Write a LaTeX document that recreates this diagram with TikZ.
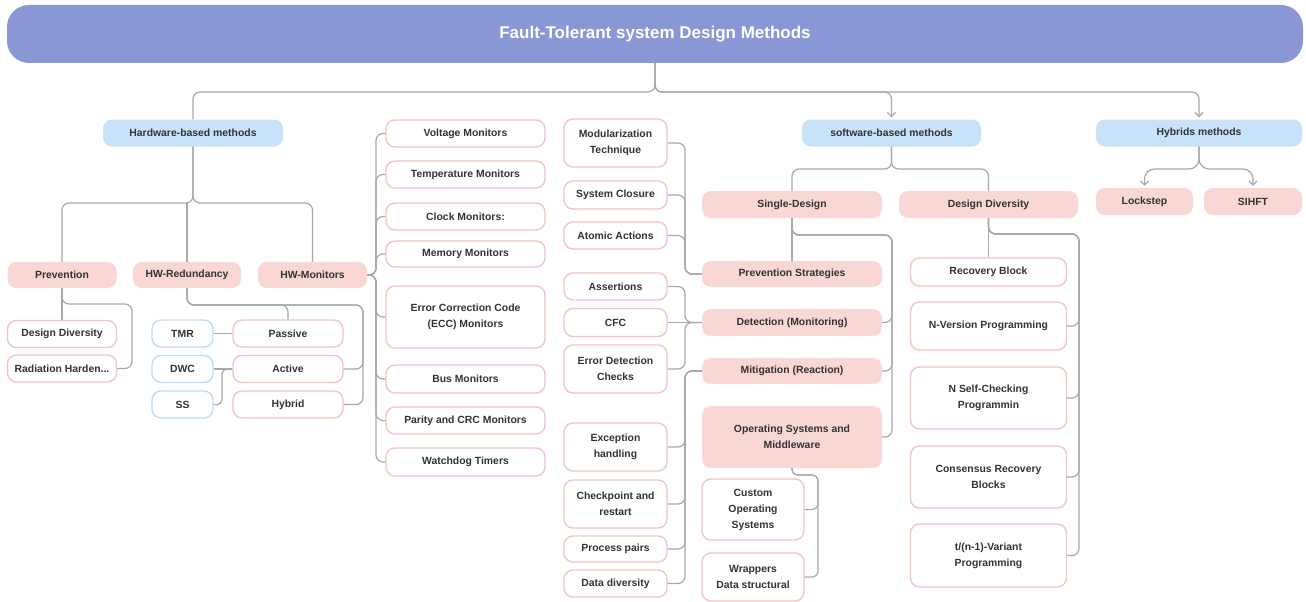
\documentclass[tikz,border=0pt]{standalone}
\usepackage{fontspec}
\setmainfont{Liberation Sans}
\usetikzlibrary{arrows.meta}
\definecolor{banner}{HTML}{8A97D5}
\definecolor{bluefill}{HTML}{C8E2F9}
\definecolor{blueedge}{HTML}{BDDCF6}
\definecolor{pinkfill}{HTML}{F8D7D4}
\definecolor{pinkedge}{HTML}{F5C4BE}
\definecolor{wire}{HTML}{A8A8A8}
\definecolor{ink}{HTML}{333333}
\begin{document}
\begin{tikzpicture}[x=1pt,y=-1pt,
  base/.style={rounded corners=9pt, inner sep=0pt, align=center, text=ink,
     font=\fontsize{10.4}{16}\selectfont\bfseries},
  sz/.style 2 args={minimum width=#1pt, minimum height=#2pt},
  cat/.style={base, fill=bluefill},
  grp/.style={base, fill=pinkfill},
  leaf/.style={base, fill=white, draw=pinkedge, line width=1.4pt},
  bleaf/.style={base, fill=white, draw=blueedge, line width=1.4pt},
  conn/.style={draw=wire, line width=1.2pt, rounded corners=7pt},
  arr/.style={conn, -{Straight Barb[length=4pt,width=8pt]}, shorten >=2pt},
]
\useasboundingbox (0,0) rectangle (1306,602);

% title banner
\node[base, fill=banner, rounded corners=22pt, sz={1296}{58}, text=white,
      font=\fontsize{17}{20}\selectfont\bfseries] (title) at (655,34)
      {Fault-Tolerant system Design Methods};

% main categories
\node[cat, sz={180}{27}] (hw)  at (193,133)   {Hardware-based methods};
\node[cat, sz={179}{27}] (sw)  at (891.5,133) {software-based methods};
\node[cat, sz={206}{27}] (hyb) at (1199,133)  {Hybrids methods};

% hardware branch
\node[grp, sz={109}{26}] (prev) at (62,275)    {Prevention};
\node[grp, sz={108}{26}] (hwr)  at (187,275)   {HW-Redundancy};
\node[grp, sz={109}{26}] (hwm)  at (312.5,275) {HW-Monitors};

\node[leaf, sz={109}{27}] (dd1) at (62,334)   {Design Diversity};
\node[leaf, sz={109}{27}] (rad) at (62,368.5) {Radiation Harden...};

\node[bleaf, sz={61}{27}] (tmr) at (182.5,333.5) {TMR};
\node[bleaf, sz={61}{27}] (dwc) at (182.5,369)   {DWC};
\node[bleaf, sz={61}{27}] (ss)  at (182.5,404.5) {SS};
\node[leaf, sz={110}{27}] (pas) at (288,333.5) {Passive};
\node[leaf, sz={110}{27}] (act) at (288,369)   {Active};
\node[leaf, sz={110}{27}] (hyd) at (288,404.5) {Hybrid};

% hardware monitors
\node[leaf, sz={159}{27}] (volt)  at (465.5,133.5) {Voltage Monitors};
\node[leaf, sz={159}{27}] (temp)  at (465.5,174.5) {Temperature Monitors};
\node[leaf, sz={159}{27}] (clock) at (465.5,216.5) {Clock Monitors:};
\node[leaf, sz={159}{26}] (mem)   at (465.5,254)   {Memory Monitors};
\node[leaf, sz={159}{62}] (ecc)   at (465.5,317)   {Error Correction Code\\(ECC) Monitors};
\node[leaf, sz={159}{28}] (bus)   at (465.5,379)   {Bus Monitors};
\node[leaf, sz={159}{27}] (par)   at (465.5,420.5) {Parity and CRC Monitors};
\node[leaf, sz={159}{28}] (wd)    at (465.5,462)   {Watchdog Timers};

% single-design techniques
\node[leaf, sz={103}{48}] (modu) at (615.5,143)   {Modularization\\Technique};
\node[leaf, sz={103}{28}] (sysc) at (615.5,195)   {System Closure};
\node[leaf, sz={103}{27}] (atom) at (615.5,235.5) {Atomic Actions};
\node[leaf, sz={103}{27}] (asrt) at (615.5,286.5) {Assertions};
\node[leaf, sz={103}{28}] (cfc)  at (615.5,322.5) {CFC};
\node[leaf, sz={103}{48}] (edc)  at (615.5,369)   {Error Detection\\Checks};
\node[leaf, sz={103}{48}] (exc)  at (615.5,447)   {Exception\\handling};
\node[leaf, sz={103}{48}] (chk)  at (615.5,504)   {Checkpoint and\\restart};
\node[leaf, sz={103}{26}] (pp)   at (615.5,549)   {Process pairs};
\node[leaf, sz={103}{27}] (dat)  at (615.5,583.5) {Data diversity};

% software branch
\node[grp, sz={180}{27}] (sd)  at (792,204.5)   {Single-Design};
\node[grp, sz={179}{27}] (ddv) at (988.5,204.5) {Design Diversity};
\node[grp, sz={180}{26}] (ps)  at (792,274)     {Prevention Strategies};
\node[grp, sz={180}{27}] (det) at (792,322.5)   {Detection (Monitoring)};
\node[grp, sz={180}{26}] (mit) at (792,371)     {Mitigation (Reaction)};
\node[grp, sz={180}{62}] (osm) at (792,437)     {Operating Systems and\\Middleware};
\node[leaf, sz={102}{61}] (cos) at (753,509.5)  {Custom\\Operating\\Systems};
\node[leaf, sz={102}{48}] (wrp) at (753,577)    {Wrappers\\Data structural};

\node[leaf, sz={156}{28}] (rb)  at (988.5,272)   {Recovery Block};
\node[leaf, sz={156}{48}] (nvp) at (988.5,326)   {N-Version Programming};
\node[leaf, sz={156}{62}] (nsc) at (988.5,398)   {N Self-Checking\\Programmin};
\node[leaf, sz={156}{62}] (crb) at (988.5,477)   {Consensus Recovery\\Blocks};
\node[leaf, sz={156}{63}] (tnv) at (988.5,555.5) {t/(n-1)-Variant\\Programming};

% hybrid branch
\node[grp, sz={97}{27}] (lock)  at (1144.5,201.5) {Lockstep};
\node[grp, sz={98}{27}] (sihft) at (1253,201.5)   {SIHFT};

% ---- connectors ----
\coordinate (topj) at (655,92);
\draw[conn] (title.south) -- (topj) -| (hw.north);
\draw[arr]  (title.south) -- (topj) -| (sw.north);
\draw[arr]  (title.south) -- (topj) -| (hyb.north);

\coordinate (hybj) at (1199,169);
\draw[arr, rounded corners=10pt] (hyb.south) -- (hybj) -| (lock.north);
\draw[arr, rounded corners=10pt] (hyb.south) -- (hybj) -| (sihft.north);

\coordinate (swj) at (891.5,169);
\draw[conn] (sw.south) -- (swj) -| (sd.north);
\draw[conn] (sw.south) -- (swj) -| (ddv.north);

\coordinate (hwj) at (193,203);
\draw[conn] (hw.south) -- (hwj) -| (prev.north);
\draw[conn] (hw.south) -- (hwj) -| (hwm.north);
\draw[conn] (hwr.north) -- (hwr.north |- hwj);

\draw[conn] (prev.south) -- (dd1.north);
\coordinate (prj) at (132,304);
\draw[conn] (prev.south) |- (prj) |- (rad.east);

\coordinate (hrj) at (363,305);
\draw[conn] (hwr.south) |- (pas.north |- hrj) -- (pas.north);
\draw[conn] (hwr.south) |- (hrj) |- (act.east);
\draw[conn] (hwr.south) |- (hrj) |- (hyd.east);
\draw[conn] (tmr.east) -- (pas.west);
\draw[conn] (dwc.east) -- (act.west);
\coordinate (ssj) at (222,369);
\draw[conn, rounded corners=5pt] (ss.east) -| (ssj) -- (act.west);

\coordinate (hmj) at (376,275);
\foreach \m in {volt,temp,clock,mem,ecc,bus,par,wd}
  \draw[conn] (hwm.east) -- (hmj) |- (\m.west);

\coordinate (psj) at (685,274);
\foreach \m in {modu,sysc,atom}
  \draw[conn] (\m.east) -| (psj) -- (ps.west);

\coordinate (dtj) at (685,322.5);
\draw[conn] (asrt.east) -| (dtj) -- (det.west);
\draw[conn] (cfc.east) -- (det.west);
\draw[conn] (edc.east) -| (dtj) -- (det.west);

\coordinate (mtj) at (685,371);
\foreach \m in {exc,chk,pp,dat}
  \draw[conn] (mit.west) -- (mtj) |- (\m.east);

\draw[conn] (sd.south) -- (ps.north);
\coordinate (sdj) at (892,235);
\foreach \m in {det,mit,osm}
  \draw[conn] (sd.south) |- (sdj) |- (\m.east);

\coordinate (osj) at (818,475);
\draw[conn, rounded corners=6pt] (osm.south) |- (osj) |- (cos.east);
\draw[conn, rounded corners=6pt] (osm.south) |- (osj) |- (wrp.east);

\draw[conn] (ddv.south) -- (rb.north);
\coordinate (ddj) at (1079,234);
\foreach \m in {nvp,nsc,crb,tnv}
  \draw[conn] (ddv.south) |- (ddj) |- (\m.east);
\end{tikzpicture}
\end{document}
